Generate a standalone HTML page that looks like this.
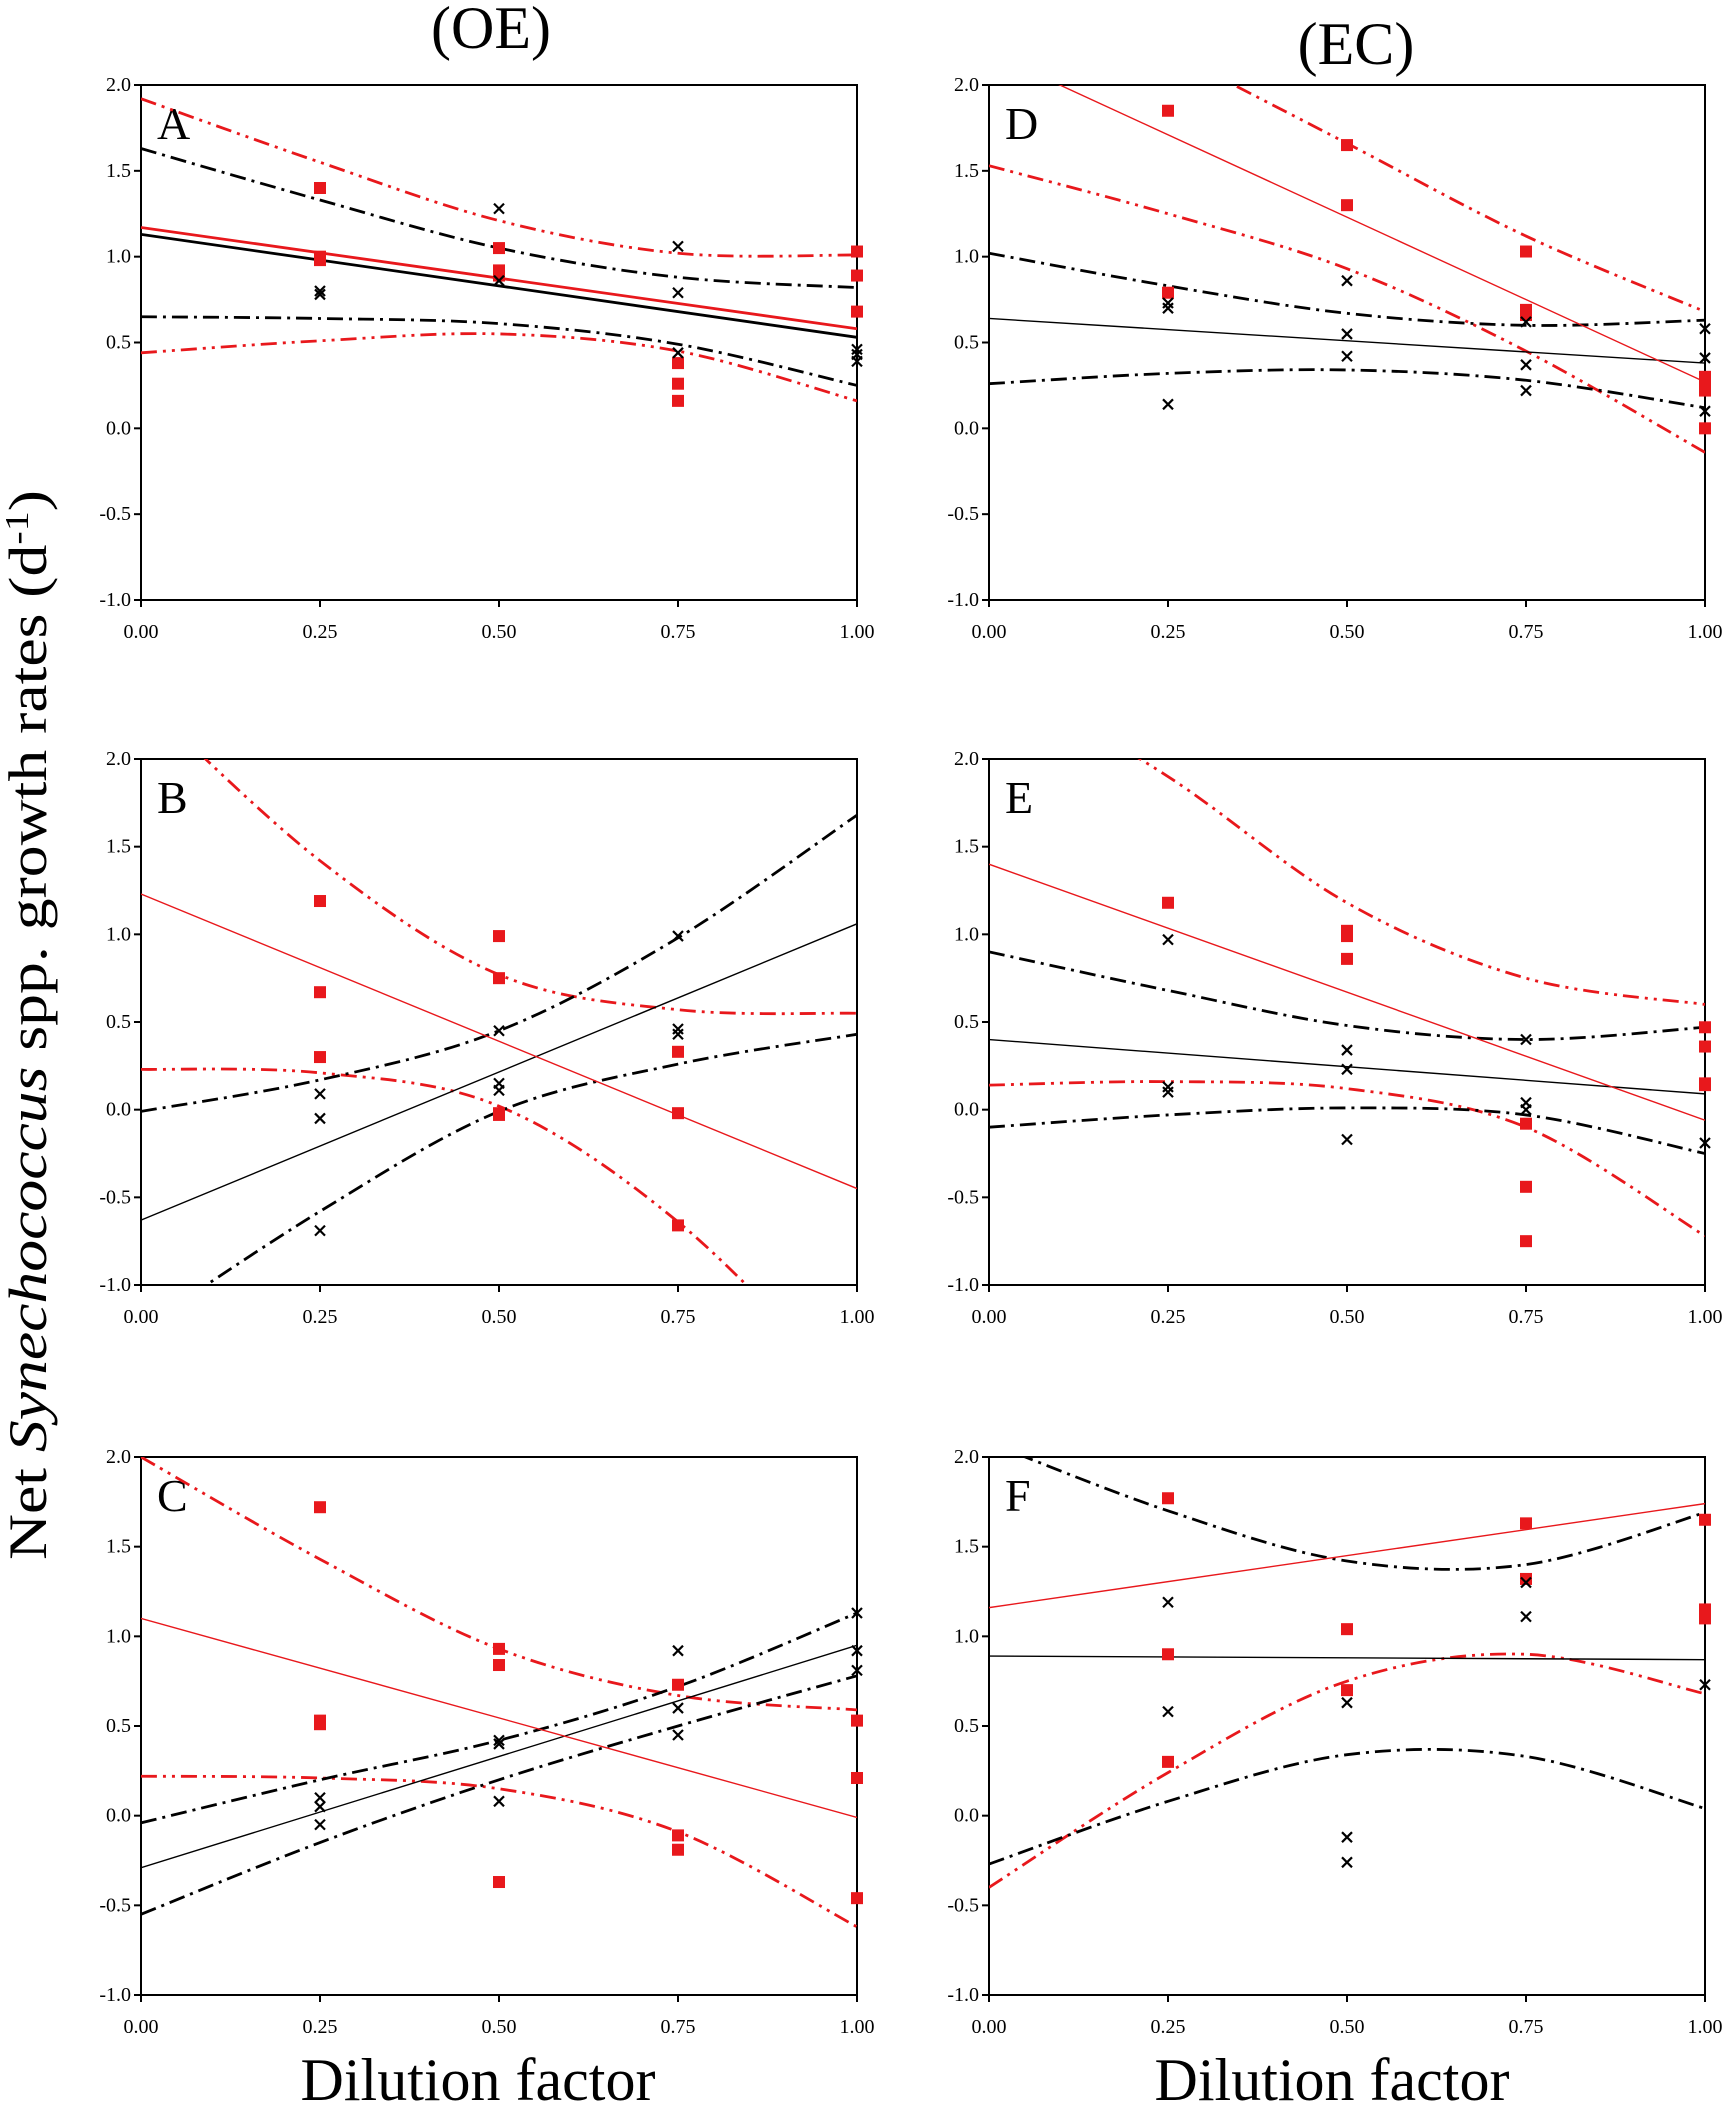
<!DOCTYPE html>
<html><head><meta charset="utf-8">
<style>
html,body{margin:0;padding:0;background:#fff;}
svg{display:block;}
text{font-family:"Liberation Serif",serif;}
</style></head>
<body>
<svg id="fig" width="1729" height="2107" viewBox="0 0 1729 2107" xmlns="http://www.w3.org/2000/svg">
<text x="491" y="48" font-size="60" text-anchor="middle">(OE)</text>
<text x="1356" y="64" font-size="60" text-anchor="middle">(EC)</text>
<text transform="translate(46,1025) rotate(-90)" font-size="54" text-anchor="middle" textLength="1070" lengthAdjust="spacingAndGlyphs">Net <tspan font-style="italic">Synechococcus</tspan> spp. growth rates (d<tspan dy="-18" font-size="34">-1</tspan><tspan dy="18">)</tspan></text>
<text x="478" y="2100" font-size="60" text-anchor="middle">Dilution factor</text>
<text x="1332" y="2100" font-size="60" text-anchor="middle">Dilution factor</text>
</svg>
<script>
// tick labels
const xTicks = [0, 0.25, 0.5, 0.75, 1.0];
const xTickLabels = ["0.00","0.25","0.50","0.75","1.00"];
const yTicks = [2.0,1.5,1.0,0.5,0.0,-0.5,-1.0];
const yTickLabels = ["2.0","1.5","1.0","0.5","0.0","-0.5","-1.0"];
const ciX = [0, 0.25, 0.5, 0.75, 1.0];

// Panel A
const aRedX = [0.25,0.25,0.25,0.5,0.5,0.5,0.75,0.75,0.75,1,1,1];
const aRedY = [1.40,1.00,0.98,1.05,0.92,0.89,0.38,0.26,0.16,1.03,0.89,0.68];
const aBlkX = [0.25,0.25,0.5,0.5,0.75,0.75,0.75,1,1,1];
const aBlkY = [0.80,0.78,1.28,0.86,1.06,0.79,0.44,0.46,0.43,0.39];
const aRedLine = [1.17,0.58];
const aBlkLine = [1.13,0.53];
const aRedUp = [1.92,1.55,1.21,1.02,1.01];
const aRedLo = [0.44,0.51,0.55,0.45,0.16];
const aBlkUp = [1.63,1.33,1.05,0.88,0.82];
const aBlkLo = [0.65,0.64,0.61,0.49,0.25];

// Panel B
const bRedX = [0.25,0.25,0.25,0.5,0.5,0.5,0.5,0.75,0.75,0.75];
const bRedY = [1.19,0.67,0.30,0.99,0.75,-0.02,-0.03,0.33,-0.02,-0.66];
const bBlkX = [0.25,0.25,0.25,0.5,0.5,0.5,0.75,0.75,0.75];
const bBlkY = [0.09,-0.05,-0.69,0.45,0.15,0.11,0.99,0.46,0.43];
const bRedLine = [1.23,-0.45];
const bBlkLine = [-0.63,1.06];
const bRedUp = [2.35,1.42,0.77,0.57,0.55];
const bRedLo = [0.23,0.21,0.02,-0.64,-1.65];
const bBlkUp = [-0.01,0.17,0.45,0.98,1.68];
const bBlkLo = [-1.25,-0.58,-0.01,0.26,0.43];

// Panel C
const cRedX = [0.25,0.25,0.25,0.5,0.5,0.5,0.75,0.75,0.75,1,1,1];
const cRedY = [1.72,0.53,0.51,0.93,0.84,-0.37,0.73,-0.11,-0.19,0.53,0.21,-0.46];
const cBlkX = [0.25,0.25,0.25,0.5,0.5,0.5,0.75,0.75,0.75,1,1,1];
const cBlkY = [0.10,0.05,-0.05,0.42,0.40,0.08,0.92,0.60,0.45,1.13,0.92,0.81];
const cRedLine = [1.10,-0.01];
const cBlkLine = [-0.29,0.95];
const cRedUp = [2.0,1.43,0.93,0.67,0.59];
const cRedLo = [0.22,0.21,0.15,-0.09,-0.62];
const cBlkUp = [-0.04,0.20,0.42,0.72,1.13];
const cBlkLo = [-0.55,-0.15,0.20,0.50,0.78];

// Panel D
const dRedX = [0.25,0.25,0.5,0.5,0.75,0.75,0.75,1,1,1,1];
const dRedY = [1.85,0.79,1.65,1.30,1.03,0.69,0.66,0.30,0.25,0.22,0.0];
const dBlkX = [0.25,0.25,0.25,0.5,0.5,0.5,0.75,0.75,0.75,1,1,1];
const dBlkY = [0.73,0.70,0.14,0.86,0.55,0.42,0.62,0.37,0.22,0.58,0.41,0.10];
const dRedLine = [2.19,0.27];
const dBlkLine = [0.64,0.38];
const dRedUp = [2.75,2.2,1.66,1.12,0.68];
const dRedLo = [1.53,1.25,0.93,0.45,-0.14];
const dBlkUp = [1.02,0.83,0.67,0.60,0.63];
const dBlkLo = [0.26,0.32,0.34,0.28,0.12];

// Panel E
const eRedX = [0.25,0.5,0.5,0.5,0.75,0.75,0.75,1,1,1,1];
const eRedY = [1.18,1.02,0.99,0.86,-0.08,-0.44,-0.75,0.47,0.36,0.15,0.14];
const eBlkX = [0.25,0.25,0.25,0.5,0.5,0.5,0.75,0.75,0.75,1];
const eBlkY = [0.97,0.13,0.10,0.34,0.23,-0.17,0.40,0.04,0.00,-0.19];
const eRedLine = [1.40,-0.06];
const eBlkLine = [0.40,0.09];
const eRedUp = [2.5,1.90,1.18,0.75,0.60];
const eRedLo = [0.14,0.16,0.12,-0.10,-0.72];
const eBlkUp = [0.90,0.68,0.48,0.40,0.47];
const eBlkLo = [-0.10,-0.03,0.01,-0.03,-0.25];

// Panel F
const fRedX = [0.25,0.25,0.25,0.5,0.5,0.75,0.75,1,1,1];
const fRedY = [1.77,0.90,0.30,1.04,0.70,1.63,1.32,1.65,1.15,1.10];
const fBlkX = [0.25,0.25,0.5,0.5,0.5,0.75,0.75,1];
const fBlkY = [1.19,0.58,0.63,-0.12,-0.26,1.30,1.11,0.73];
const fRedLine = [1.16,1.74];
const fBlkLine = [0.89,0.87];
const fRedUp = null;
const fRedLo = [-0.40,0.24,0.75,0.90,0.68];
const fBlkUp = [2.08,1.70,1.42,1.40,1.69];
const fBlkLo = [-0.27,0.08,0.34,0.33,0.04];

const NS = "http://www.w3.org/2000/svg";
const svg = document.getElementById('fig');

const panels = [
 {id:'a', letter:'A', x0:141, x1:857, yT:85, yB:600, rX:aRedX, rY:aRedY, bX:aBlkX, bY:aBlkY, rL:aRedLine, bL:aBlkLine, rU:aRedUp, rLo:aRedLo, bU:aBlkUp, bLo:aBlkLo, lw:2.8},
 {id:'b', letter:'B', x0:141, x1:857, yT:759, yB:1285, rX:bRedX, rY:bRedY, bX:bBlkX, bY:bBlkY, rL:bRedLine, bL:bBlkLine, rU:bRedUp, rLo:bRedLo, bU:bBlkUp, bLo:bBlkLo, lw:1.4},
 {id:'c', letter:'C', x0:141, x1:857, yT:1457, yB:1995, rX:cRedX, rY:cRedY, bX:cBlkX, bY:cBlkY, rL:cRedLine, bL:cBlkLine, rU:cRedUp, rLo:cRedLo, bU:cBlkUp, bLo:cBlkLo, lw:1.4},
 {id:'d', letter:'D', x0:989, x1:1705, yT:85, yB:600, rX:dRedX, rY:dRedY, bX:dBlkX, bY:dBlkY, rL:dRedLine, bL:dBlkLine, rU:dRedUp, rLo:dRedLo, bU:dBlkUp, bLo:dBlkLo, lw:1.4},
 {id:'e', letter:'E', x0:989, x1:1705, yT:759, yB:1285, rX:eRedX, rY:eRedY, bX:eBlkX, bY:eBlkY, rL:eRedLine, bL:eBlkLine, rU:eRedUp, rLo:eRedLo, bU:eBlkUp, bLo:eBlkLo, lw:1.4},
 {id:'f', letter:'F', x0:989, x1:1705, yT:1457, yB:1995, rX:fRedX, rY:fRedY, bX:fBlkX, bY:fBlkY, rL:fRedLine, bL:fBlkLine, rU:fRedUp, rLo:fRedLo, bU:fBlkUp, bLo:fBlkLo, lw:1.4}
];

function mk(tag, attrs, parent){
  const e = document.createElementNS(NS, tag);
  for (const k in attrs) e.setAttribute(k, attrs[k]);
  (parent||svg).appendChild(e);
  return e;
}

const defs = mk('defs', {});

panels.forEach(p => {
  const sx = v => p.x0 + v*(p.x1-p.x0);
  const sy = v => p.yB - (v+1)/3*(p.yB-p.yT);
  const g = mk('g', {});
  
  

  const cp = mk('clipPath', {id:'clip-'+p.id}, defs);
  mk('rect', {x:p.x0, y:p.yT, width:p.x1-p.x0, height:p.yB-p.yT}, cp);

  const fr = mk('rect', {x:p.x0, y:p.yT, width:p.x1-p.x0, height:p.yB-p.yT, fill:'none', stroke:'#000', 'stroke-width':2}, g);
  
  

  yTicks.forEach((t,i) => {
    mk('line', {x1:p.x0-7, x2:p.x0, y1:sy(t), y2:sy(t), stroke:'#000', 'stroke-width':2}, g);
    const tl = mk('text', {x:p.x0-10, y:sy(t)+6, 'font-size':20, 'text-anchor':'end'}, g);
    tl.textContent = yTickLabels[i];
    
    
  });
  xTicks.forEach((t,i) => {
    mk('line', {x1:sx(t), x2:sx(t), y1:p.yB, y2:p.yB+7, stroke:'#000', 'stroke-width':2}, g);
    const tl = mk('text', {x:sx(t), y:p.yB+38, 'font-size':20, 'text-anchor':'middle'}, g);
    tl.textContent = xTickLabels[i];
    
    
  });

  const lt = mk('text', {x:p.x0+16, y:p.yT+54, 'font-size':46}, g);
  lt.textContent = p.letter;
  
  

  const cg = mk('g', {'clip-path':'url(#clip-'+p.id+')'}, g);

  function curve(vals, color, dash, name){
    if (!vals) return;
    const pts = ciX.map((x,i)=>[sx(x), sy(vals[i])]);
    let d = 'M'+pts[0][0]+','+pts[0][1];
    for (let i=0;i<pts.length-1;i++){
      const p0 = pts[Math.max(0,i-1)], p1 = pts[i], p2 = pts[i+1], p3 = pts[Math.min(pts.length-1,i+2)];
      const c1 = [p1[0]+(p2[0]-p0[0])/6, p1[1]+(p2[1]-p0[1])/6];
      const c2 = [p2[0]-(p3[0]-p1[0])/6, p2[1]-(p3[1]-p1[1])/6];
      d += ' C'+c1[0]+','+c1[1]+' '+c2[0]+','+c2[1]+' '+p2[0]+','+p2[1];
    }
    const e = mk('path', {d:d, fill:'none', stroke:color, 'stroke-width':2.8, 'stroke-dasharray':dash}, cg);
    
    
  }
  function line(coef, color, name){
    const e = mk('line', {x1:sx(0), y1:sy(coef[0]), x2:sx(1), y2:sy(coef[1]), stroke:color, 'stroke-width':p.lw}, cg);
    
    
  }
  curve(p.rU, '#e8181c', '16,6,3,6,3,6', 'red-ci-upper');
  curve(p.rLo, '#e8181c', '16,6,3,6,3,6', 'red-ci-lower');
  curve(p.bU, '#000', '16,6,3,6', 'black-ci-upper');
  curve(p.bLo, '#000', '16,6,3,6', 'black-ci-lower');
  line(p.bL, '#000', 'black-regression-line');
  line(p.rL, '#e8181c', 'red-regression-line');

  p.rX.forEach((x,i) => {
    const e = mk('rect', {x:sx(x)-6, y:sy(p.rY[i])-6, width:12, height:12, fill:'#e8181c'}, g);
    
    
  });
  p.bX.forEach((x,i) => {
    const cx = sx(x), cy = sy(p.bY[i]);
    const e = mk('path', {d:`M${cx-5},${cy-5}L${cx+5},${cy+5}M${cx-5},${cy+5}L${cx+5},${cy-5}`, stroke:'#000', 'stroke-width':2.2, fill:'none'}, g);
    
    
  });
});
</script>
</body></html>
